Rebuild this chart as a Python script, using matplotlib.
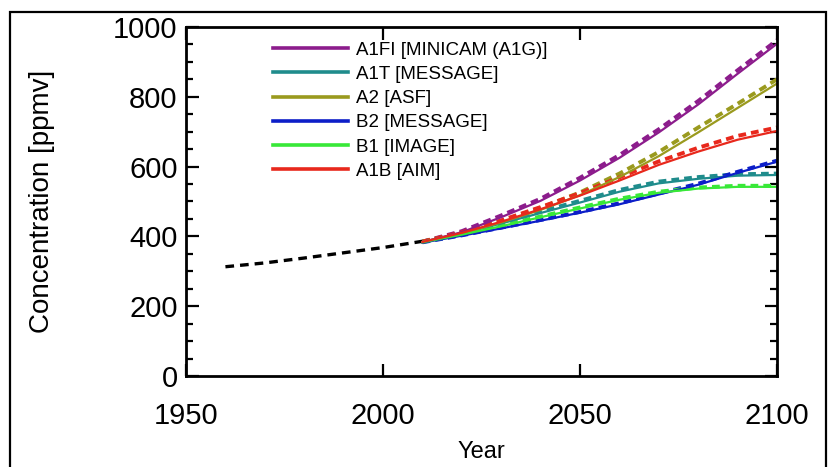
import numpy as np
import matplotlib.pyplot as plt
from matplotlib.patches import Rectangle
from matplotlib.ticker import MultipleLocator

plt.rcParams['font.family'] = ['Liberation Sans', 'DejaVu Sans']

# observed record (dashed black)
anos_hist = [1960, 1970, 1980, 1990, 2000, 2010]
co2_hist = [313, 324, 338, 353, 368, 386]

# scenario years
anos = [2010, 2020, 2030, 2040, 2050, 2060, 2070, 2080, 2090, 2100]

nomes = ['A1FI [MINICAM (A1G)]', 'A1T [MESSAGE]', 'A2 [ASF]',
         'B2 [MESSAGE]', 'B1 [IMAGE]', 'A1B [AIM]']
cores = ['#8c1c8c', '#1f8c8c', '#9a9a1e', '#0c1ec8', '#38e838', '#e8281c']

# solid curves
solido = [
    [384, 412, 455, 502, 560, 625, 698, 778, 866, 952],   # A1FI
    [384, 408, 437, 467, 497, 528, 552, 565, 574, 576],   # A1T
    [384, 408, 440, 476, 518, 570, 630, 698, 768, 838],   # A2
    [382, 402, 423, 445, 468, 492, 520, 548, 582, 614],   # B2
    [383, 405, 429, 455, 480, 505, 525, 537, 542, 542],   # B1
    [384, 410, 442, 478, 517, 560, 605, 643, 677, 702],   # A1B
]
# dashed curves
tracejado = [
    [385, 415, 460, 508, 568, 633, 707, 788, 876, 962],
    [385, 410, 440, 471, 502, 533, 557, 570, 578, 580],
    [385, 410, 444, 482, 526, 580, 642, 712, 780, 850],
    [383, 403, 425, 447, 470, 495, 523, 551, 585, 617],
    [384, 406, 431, 457, 483, 508, 528, 540, 545, 545],
    [385, 412, 446, 484, 524, 569, 615, 654, 688, 712],
]

fig = plt.figure(figsize=(8.32, 4.67), dpi=100)
ax = fig.add_axes([0.2236, 0.1949, 0.7103, 0.7473])

ax.plot(anos_hist, co2_hist, color='black', linewidth=2.4, dashes=(2.6, 1.8))

for i in range(len(nomes)):
    ax.plot(anos, tracejado[i], color=cores[i], linewidth=2.8, dashes=(2, 1.3))
for i in range(len(nomes)):
    ax.plot(anos, solido[i], color=cores[i], linewidth=1.6, label=nomes[i])

ax.set_xlim(1950, 2100)
ax.set_ylim(0, 1000)
ax.set_xticks([1950, 2000, 2050, 2100])
ax.yaxis.set_major_locator(MultipleLocator(200))
ax.yaxis.set_minor_locator(MultipleLocator(50))

ax.tick_params(axis='both', which='both', direction='in', top=True, right=True, width=1.6)
ax.tick_params(axis='both', which='major', length=9, labelsize=21)
ax.tick_params(axis='y', which='minor', length=5)
ax.tick_params(axis='x', which='major', pad=19)
ax.tick_params(axis='y', which='major', pad=6)
for s in ax.spines.values():
    s.set_linewidth(2)

ax.set_xlabel('Year', fontsize=17, labelpad=8)
ax.set_ylabel('Concentration [ppmv]', fontsize=20, labelpad=42)

leg = ax.legend(loc='upper left', bbox_to_anchor=(0.132, 0.985), frameon=False,
                fontsize=13.5, handlelength=4.0, handletextpad=0.4,
                labelspacing=0.38, borderpad=0)
for h in leg.get_lines():
    h.set_linewidth(2.6)

# outer frame around the figure
fig.patches.append(Rectangle((10 / 832, -0.05), 816 / 832, 1 - 12 / 467 + 0.05,
                             transform=fig.transFigure, fill=False,
                             edgecolor='black', linewidth=1.6))

fig.savefig('out.png', dpi=100)
